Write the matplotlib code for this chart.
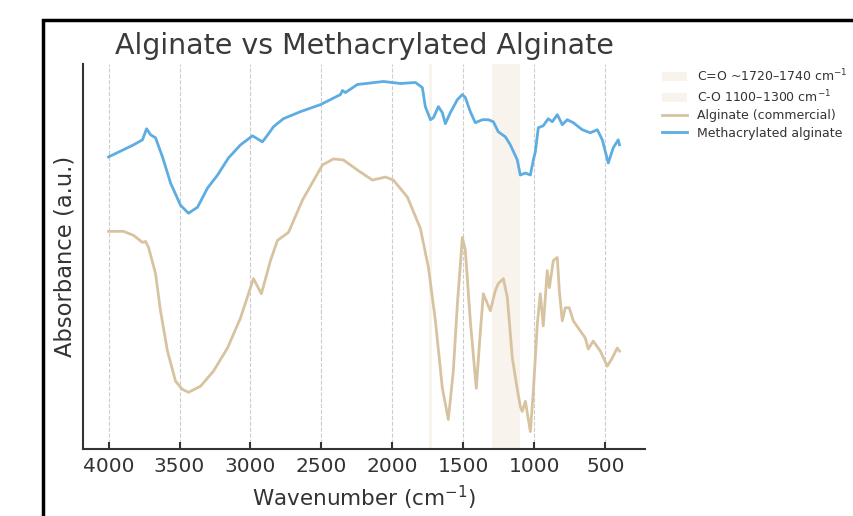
import matplotlib
matplotlib.use("Agg")
import matplotlib.pyplot as plt
from matplotlib.patches import Rectangle

# Methacrylated alginate (wavenumber cm^-1, absorbance a.u.)
meth_wn = [4000, 3824, 3761, 3732, 3704, 3669, 3620, 3563, 3493, 3437, 3373, 3303,
           3232, 3155, 3070, 2986, 2916, 2873, 2838, 2768, 2648, 2507, 2366, 2352,
           2331, 2247, 2063, 1944, 1838, 1789, 1768, 1732, 1711, 1676, 1648, 1627,
           1592, 1542, 1507, 1486, 1451, 1416, 1366, 1324, 1289, 1254, 1204, 1169,
           1120, 1099, 1063, 1028, 1007, 993, 972, 937, 902, 873, 838, 803, 768,
           725, 662, 606, 556, 521, 479, 444, 409, 400]
meth_abs = [2.93, 3.05, 3.10, 3.21, 3.15, 3.12, 2.93, 2.67, 2.45, 2.37, 2.43, 2.62,
            2.75, 2.92, 3.05, 3.14, 3.08, 3.16, 3.23, 3.31, 3.38, 3.45, 3.55, 3.59,
            3.57, 3.65, 3.68, 3.66, 3.67, 3.62, 3.43, 3.30, 3.32, 3.43, 3.37, 3.26,
            3.37, 3.50, 3.55, 3.52, 3.38, 3.27, 3.30, 3.30, 3.28, 3.18, 3.13, 3.05,
            2.90, 2.75, 2.77, 2.75, 2.90, 2.98, 3.22, 3.24, 3.31, 3.28, 3.35, 3.25,
            3.30, 3.27, 3.20, 3.17, 3.20, 3.10, 2.87, 3.02, 3.10, 3.05]

# Alginate (commercial)
alg_wn = [4000, 3894, 3824, 3761, 3739, 3718, 3669, 3634, 3585, 3528, 3480, 3437,
          3352, 3261, 3162, 3070, 2979, 2923, 2859, 2810, 2732, 2634, 2493, 2416,
          2345, 2247, 2141, 2049, 1993, 1894, 1803, 1746, 1697, 1648, 1606, 1571,
          1542, 1507, 1486, 1451, 1409, 1380, 1359, 1310, 1275, 1254, 1218, 1190,
          1155, 1120, 1099, 1085, 1063, 1028, 1007, 979, 958, 937, 909, 894, 866,
          838, 824, 803, 782, 754, 725, 676, 641, 620, 585, 535, 486, 451, 416, 400]
alg_abs = [2.19, 2.19, 2.15, 2.08, 2.09, 2.03, 1.77, 1.40, 1.00, 0.70, 0.62, 0.59,
           0.65, 0.80, 1.03, 1.33, 1.72, 1.57, 1.90, 2.10, 2.18, 2.50, 2.85, 2.91,
           2.90, 2.80, 2.70, 2.73, 2.70, 2.53, 2.22, 1.83, 1.30, 0.63, 0.32, 0.80,
           1.47, 2.13, 2.00, 1.30, 0.63, 1.20, 1.57, 1.40, 1.60, 1.67, 1.72, 1.53,
           0.93, 0.62, 0.45, 0.40, 0.50, 0.20, 0.60, 1.27, 1.57, 1.25, 1.80, 1.63,
           1.90, 1.93, 1.60, 1.30, 1.43, 1.43, 1.30, 1.20, 1.13, 1.02, 1.10, 1.00,
           0.85, 0.93, 1.03, 1.00]

# Highlighted bands
band_ranges = [(1720, 1740), (1100, 1300)]
band_labels = ["C=O ~1720–1740 cm$^{-1}$", "C-O 1100–1300 cm$^{-1}$"]
xticks = [4000, 3500, 3000, 2500, 2000, 1500, 1000, 500]

TEXT = "#333333"
fig = plt.figure(figsize=(8.54, 5.16), dpi=100)
ax = fig.add_axes([0.0972, 0.1298, 0.6581, 0.7462])

for (lo, hi), lab in zip(band_ranges, band_labels):
    ax.axvspan(lo, hi, color="#d2b48c", alpha=0.15, lw=0, label=lab)

ax.plot(alg_wn, alg_abs, color="#d8c3a0", lw=2.0, label="Alginate (commercial)",
        solid_joinstyle="round")
ax.plot(meth_wn, meth_abs, color="#5dade2", lw=2.0, label="Methacrylated alginate",
        solid_joinstyle="round")

ax.set_xlim(4180, 220)
ax.set_ylim(0.026, 3.854)
ax.set_xticks(xticks)
ax.set_xticklabels([str(t) for t in xticks])
ax.set_yticks([])
ax.grid(axis="x", linestyle="--", color="#cccccc", lw=0.8)
ax.set_axisbelow(True)
ax.tick_params(axis="x", direction="in", length=5, width=1.5, colors=TEXT,
               labelsize=14.5, pad=6)
for s in ["top", "right"]:
    ax.spines[s].set_visible(False)
for s in ["left", "bottom"]:
    ax.spines[s].set_color(TEXT)
    ax.spines[s].set_linewidth(1.5)

ax.set_title("Alginate vs Methacrylated Alginate", fontsize=20.5, color="#3a3a3a", pad=7)
ax.set_xlabel("Wavenumber (cm$^{-1}$)", fontsize=15.5, color=TEXT, labelpad=5)
ax.set_ylabel("Absorbance (a.u.)", fontsize=16.3, color=TEXT, labelpad=5)

leg = ax.legend(loc="upper left", bbox_to_anchor=(1.01, 1.02), frameon=False,
                fontsize=9, labelcolor=TEXT, labelspacing=0.35)

# screenshot frame
fig.patches.append(Rectangle((43 / 854, -0.05), 1.1, 1 - 20 / 516 + 0.05,
                             transform=fig.transFigure, fill=False,
                             edgecolor="black", lw=2.5))

fig.savefig("out.png", dpi=100)
